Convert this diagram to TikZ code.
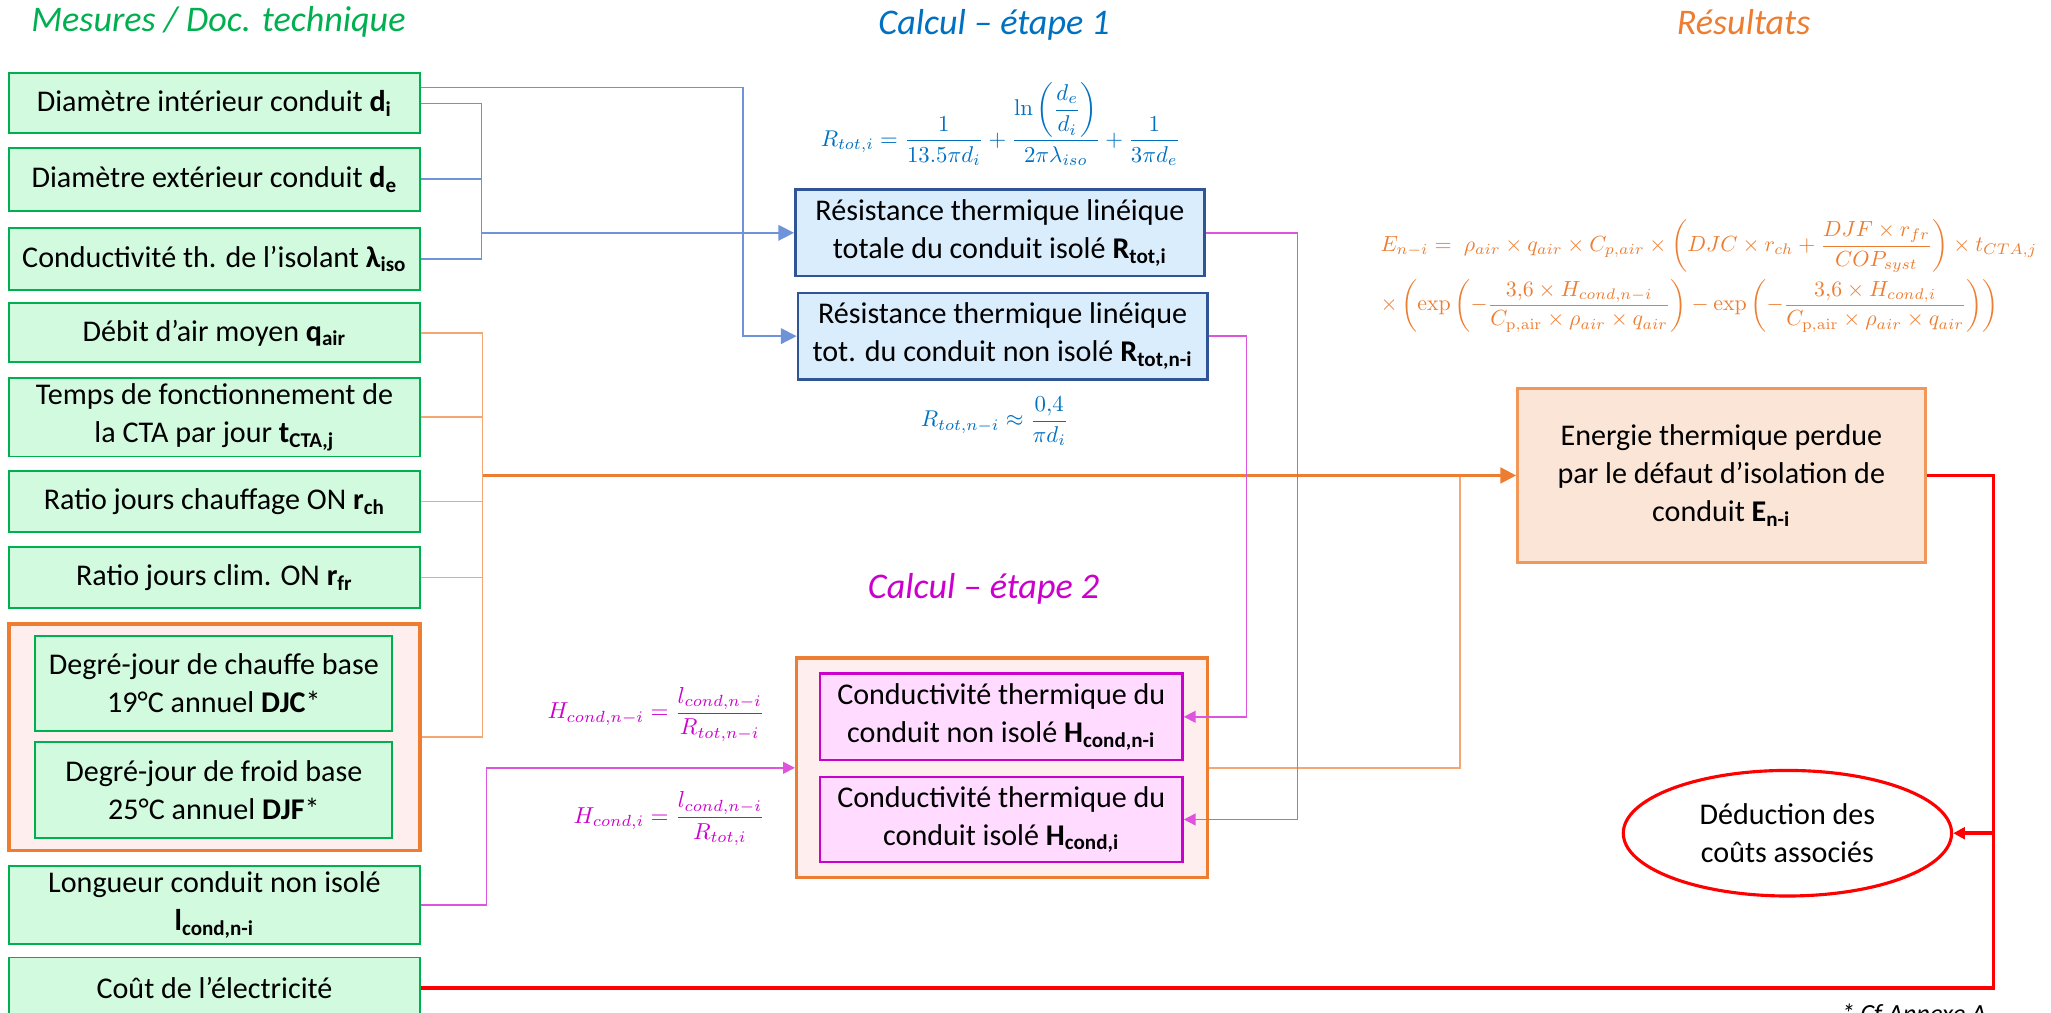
\documentclass[tikz,border=0pt]{standalone}
\usepackage{amsmath}
\usepackage[no-math]{fontspec}
\usepackage{graphicx}
\setmainfont{Carlito}
\usetikzlibrary{arrows.meta,shapes.geometric}
\definecolor{grn}{HTML}{00B050}
\definecolor{grnfill}{HTML}{D2FADF}
\definecolor{blu}{HTML}{0070C0}
\definecolor{blubord}{HTML}{2F5597}
\definecolor{blufill}{HTML}{DAEDFD}
\definecolor{bluline}{HTML}{6F93D8}
\definecolor{org}{HTML}{ED7D31}
\definecolor{orgline}{HTML}{F5A673}
\definecolor{orgfill}{HTML}{FBE5D6}
\definecolor{pinkfill}{HTML}{FFEEEE}
\definecolor{mag}{HTML}{CC00CC}
\definecolor{magfill}{HTML}{FFDCFF}
\definecolor{magline}{HTML}{DD55DD}
\definecolor{rd}{HTML}{FF0000}
\tikzset{
  txt/.style={font=\fontsize{11.5}{14.5}\selectfont, align=center, inner sep=0pt, text=black},
  gbox/.style={txt, rectangle, draw=grn, line width=0.75pt, fill=grnfill, minimum width=157pt},
  bbox/.style={txt, rectangle, draw=blubord, line width=1pt, fill=blufill, minimum width=156.5pt},
  mbox/.style={txt, rectangle, draw=mag, line width=1pt, fill=magfill, minimum width=138.5pt},
  obox/.style={rectangle, draw=org, line width=1.3pt, fill=pinkfill, inner sep=0pt},
  ebox/.style={txt, rectangle, draw=org!80, line width=0.9pt, fill=orgfill},
  ttl/.style={font=\itshape\fontsize{13.8}{16}\selectfont, inner sep=0pt},
  arr/.style={-{Triangle[length=6pt,width=6pt]}},
  sarr/.style={-{Triangle[length=4.5pt,width=4.5pt]}},
  bl/.style={draw=bluline, line width=0.6pt},
  ol/.style={draw=orgline, line width=0.6pt},
  om/.style={draw=org, line width=1pt},
  ml/.style={draw=magline, line width=0.6pt},
  rl/.style={draw=rd, line width=1.5pt},
}
\begin{document}
\begin{tikzpicture}[x=0.5pt,y=-0.5pt]
\useasboundingbox (0,0) rectangle (1568,774);
\clip (0,0) rectangle (1568,774);

% titles
\node[ttl, text=grn] (t1) at (167,17) {Mesures / Doc. technique};
\node[ttl, text=blu] (t2) at (760,19) {Calcul – étape 1};
\node[ttl, text=org] (t3) at (1333,17) {Résultats};
\node[ttl, text=mag] (t4) at (752,450) {Calcul – étape 2};

% left column
\node[gbox, minimum height=23pt] (di) at (164,79) {Diamètre intérieur conduit \textbf{d\textsubscript{i}}};
\node[gbox, minimum height=24pt] (de) at (164,137) {Diamètre extérieur conduit \textbf{d\textsubscript{e}}};
\node[gbox, minimum height=24pt] (lam) at (164,198) {Conductivité th. de l’isolant \textbf{λ\textsubscript{iso}}};
\node[gbox, minimum height=22.5pt] (q) at (164,254.5) {Débit d’air moyen \textbf{q\textsubscript{air}}};
\node[gbox, minimum height=30pt] (tps) at (164,319) {Temps de fonctionnement de\\la CTA par jour \textbf{t\textsubscript{CTA,j}}};
\node[gbox, minimum height=23.5pt] (rch) at (164,383.5) {Ratio jours chauffage ON \textbf{r\textsubscript{ch}}};
\node[gbox, minimum height=23.5pt] (rfr) at (164,441.5) {Ratio jours clim. ON \textbf{r\textsubscript{fr}}};
\node[obox, minimum width=157pt, minimum height=86.5pt] (grp) at (164,563.5) {};
\node[gbox, minimum width=136.5pt, minimum height=36.5pt] (djc) at (163.5,522.5) {Degré-jour de chauffe base\\19°C annuel \textbf{DJC}*};
\node[gbox, minimum width=136.5pt, minimum height=37pt] (djf) at (163.5,604) {Degré-jour de froid base\\25°C annuel \textbf{DJF}*};
\node[gbox, minimum height=30pt] (lon) at (164,692) {Longueur conduit non isolé\\\textbf{l\textsubscript{cond,n-i}}};
\node[gbox, minimum height=23pt] (cout) at (164,755) {Coût de l’électricité};

% stage 1
\node[bbox, minimum height=33pt] (ri) at (764.5,178) {Résistance thermique linéique\\totale du conduit isolé \textbf{R\textsubscript{tot,i}}};
\node[bbox, minimum height=33pt] (rni) at (766.5,257) {Résistance thermique linéique\\tot. du conduit non isolé \textbf{R\textsubscript{tot,n-i}}};
\node[text=blu, inner sep=0pt] (fri) at (765,95) {\resizebox{137.5pt}{!}{$\displaystyle R_{tot,i}=\frac{1}{13.5\pi d_i}+\frac{\ln\left(\dfrac{d_e}{d_i}\right)}{2\pi\lambda_{iso}}+\frac{1}{3\pi d_e}$}};
\node[text=blu, inner sep=0pt] (frni) at (760.5,322) {\resizebox{56.5pt}{!}{$\displaystyle R_{tot,n-i}\approx\frac{0{,}4}{\pi d_i}$}};

% stage 2
\node[obox, minimum width=157pt, minimum height=84pt] (st2) at (766,587) {};
\node[mbox, minimum height=33pt] (hni) at (765.5,548) {Conductivité thermique du\\conduit non isolé \textbf{H\textsubscript{cond,n-i}}};
\node[mbox, minimum height=32.5pt] (hi) at (765.5,626.5) {Conductivité thermique du\\conduit isolé \textbf{H\textsubscript{cond,i}}};
\node[text=mag, inner sep=0pt, anchor=east] (fhni) at (585,546) {\resizebox{83pt}{!}{$\displaystyle H_{cond,n-i}=\frac{l_{cond,n-i}}{R_{tot,n-i}}$}};
\node[text=mag, inner sep=0pt, anchor=east] (fhi) at (585,626) {\resizebox{73pt}{!}{$\displaystyle H_{cond,i}=\frac{l_{cond,n-i}}{R_{tot,i}}$}};

% results
\node[ebox, minimum width=156pt, minimum height=66.5pt] (en) at (1316,363.5) {Energie thermique perdue\\par le défaut d’isolation de\\conduit \textbf{E\textsubscript{n-i}}};
\node[txt, ellipse, draw=rd, line width=1.2pt, fill=white, minimum width=125.5pt, minimum height=48pt] (ell) at (1366.5,637) {Déduction des\\coûts associés};
\node[text=org, inner sep=0pt, anchor=west] (fe) at (1055,211) {\resizebox{251pt}{!}{$\begin{array}{@{}l@{}}
\displaystyle E_{n-i}=\;\rho_{air}\times q_{air}\times C_{p,air}\times\left(DJC\times r_{ch}+\frac{DJF\times r_{fr}}{COP_{syst}}\right)\times t_{CTA,j}\\[9pt]
\displaystyle \times\left(\exp\left(-\frac{3{,}6\times H_{cond,n-i}}{C_{\mathrm{p,air}}\times\rho_{air}\times q_{air}}\right)-\exp\left(-\frac{3{,}6\times H_{cond,i}}{C_{\mathrm{p,air}}\times\rho_{air}\times q_{air}}\right)\right)
\end{array}$}};
\node[font=\itshape\fontsize{10}{12}\selectfont, anchor=north east, inner sep=0pt] (ann) at (1519,767) {* Cf Annexe A};

% bus coordinates
\coordinate (xb1) at (568,0);
\coordinate (xb2) at (368,0);
\coordinate (xb3) at (369,0);
\coordinate (xb4) at (1116,0);
\coordinate (xb5) at (992,0);
\coordinate (xb6) at (953,0);
\coordinate (xb7) at (372,0);
\coordinate (xb8) at (1524,0);

% blue connectors
\draw[bl, arr] ([yshift=6pt]di.east) -| (xb1 |- rni.west) -- (rni.west);
\draw[bl] (di.east) -| (xb2 |- lam.east) -- (lam.east);
\draw[bl] (de.east) -- (de.east -| xb2);
\draw[bl, arr] (xb2 |- ri.west) -- (ri.west);

% orange connectors
\draw[ol] (q.east) -| (xb3 |- grp.east) -- (grp.east);
\draw[ol] (tps.east) -- (tps.east -| xb3);
\draw[ol] (rch.east) -- (rch.east -| xb3);
\draw[ol] (rfr.east) -- (rfr.east -| xb3);
\draw[ol] (st2.east) -| (xb4 |- en.west);
\draw[om, arr] (xb3 |- en.west) -- (en.west);

% magenta connectors
\draw[ml, sarr] (ri.east) -| (xb5 |- hi.east) -- (hi.east);
\draw[ml, sarr] (rni.east) -| (xb6 |- hni.east) -- (hni.east);
\draw[ml, sarr] (lon.east) -| (xb7 |- st2.west) -- (st2.west);

% red connectors
\draw[rl] (en.east) -| (xb8 |- cout.east) -- (cout.east);
\draw[rl, sarr] (xb8 |- ell.east) -- (ell.east);
\end{tikzpicture}
\end{document}
